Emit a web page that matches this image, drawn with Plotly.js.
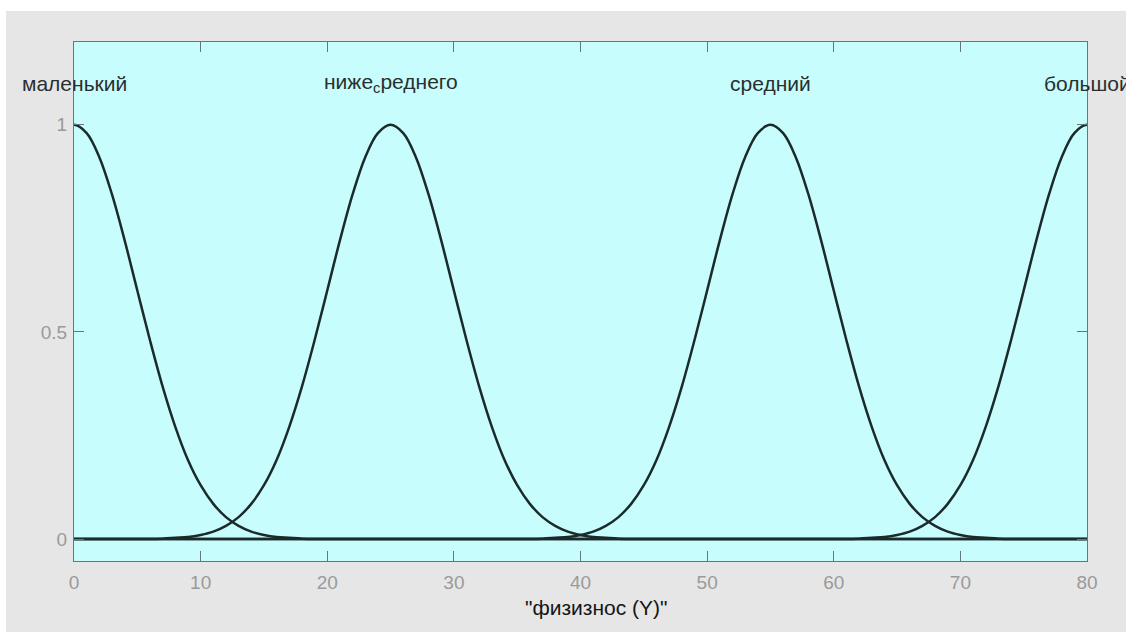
<!DOCTYPE html>
<html>
<head>
<meta charset="utf-8">
<script src="https://cdn.plot.ly/plotly-3.0.1.min.js"></script>
<style>
  html, body { margin: 0; padding: 0; background: #ffffff; overflow: hidden; }
  #chart { position: absolute; left: 6px; top: 11px; width: 1120px; height: 621px; }
</style>
</head>
<body>
<div id="chart"></div>
<script>
// x grid (sample points along "физизнос (Y)"), one step beyond each end so the curves stay smooth at the edges
const xGrid = [-1,0,1,2,3,4,5,6,7,8,9,10,11,12,13,14,15,16,17,18,19,20,
  21,22,23,24,25,26,27,28,29,30,31,32,33,34,35,36,37,38,39,40,
  41,42,43,44,45,46,47,48,49,50,51,52,53,54,55,56,57,58,59,60,
  61,62,63,64,65,66,67,68,69,70,71,72,73,74,75,76,77,78,79,80,81];

// membership values
const mfSmall = [0.98,
  1,0.98,0.922,0.832,0.721,0.6,0.48,0.368,0.271,0.191,
  0.13,0.085,0.053,0.032,0.018,0.01,0.005,0.003,0.001,0,
  0,0,0,0,0,0,0,0,0,0,
  0,0,0,0,0,0,0,0,0,0,
  0,0,0,0,0,0,0,0,0,0,
  0,0,0,0,0,0,0,0,0,0,
  0,0,0,0,0,0,0,0,0,0,
  0,0,0,0,0,0,0,0,0,0,
  0,
  0];

const mfBelowMid = [0,
  0,0,0,0,0,0,0,0.001,0.003,0.005,
  0.01,0.018,0.032,0.053,0.085,0.13,0.191,0.271,0.368,0.48,
  0.6,0.721,0.832,0.922,0.98,1,0.98,0.922,0.832,0.721,
  0.6,0.48,0.368,0.271,0.191,0.13,0.085,0.053,0.032,0.018,
  0.01,0.005,0.003,0.001,0,0,0,0,0,0,
  0,0,0,0,0,0,0,0,0,0,
  0,0,0,0,0,0,0,0,0,0,
  0,0,0,0,0,0,0,0,0,0,
  0,
  0];

const mfMid = [0,
  0,0,0,0,0,0,0,0,0,0,
  0,0,0,0,0,0,0,0,0,0,
  0,0,0,0,0,0,0,0,0,0,
  0,0,0,0,0,0,0,0.001,0.003,0.005,
  0.01,0.018,0.032,0.053,0.085,0.13,0.191,0.271,0.368,0.48,
  0.6,0.721,0.832,0.922,0.98,1,0.98,0.922,0.832,0.721,
  0.6,0.48,0.368,0.271,0.191,0.13,0.085,0.053,0.032,0.018,
  0.01,0.005,0.003,0.001,0,0,0,0,0,0,
  0,
  0];

const mfLarge = [0,
  0,0,0,0,0,0,0,0,0,0,
  0,0,0,0,0,0,0,0,0,0,
  0,0,0,0,0,0,0,0,0,0,
  0,0,0,0,0,0,0,0,0,0,
  0,0,0,0,0,0,0,0,0,0,
  0,0,0,0,0,0,0,0,0,0,
  0,0,0.001,0.003,0.005,0.01,0.018,0.032,0.053,0.085,
  0.13,0.191,0.271,0.368,0.48,0.6,0.721,0.832,0.922,0.98,
  1,
  0.98];

const mfNames = ['маленький', 'ниже<sub>с</sub>реднего', 'средний', 'большой'];
const mfCenters = [0, 25, 55, 80];
const mfLabelY = [1.1, 1.1, 1.1, 1.1];

const xTicks = [0,10,20,30,40,50,60,70,80];
const yTicks = [0, 0.5, 1];
const yTickText = ['0', '0.5', '1'];
const xTitle = '"физизнос (Y)"';

const series = [mfSmall, mfBelowMid, mfMid, mfLarge];
const lineColor = '#1b2b2b';
const traces = series.map(ys => ({
  x: xGrid, y: ys, type: 'scatter', mode: 'lines',
  line: {color: lineColor, width: 2.5, shape: 'spline', smoothing: 1},
  hoverinfo: 'skip', showlegend: false
}));

const annotations = mfNames.map((t, i) => ({
  x: mfCenters[i], y: mfLabelY[i], xref: 'x', yref: 'y', text: t,
  showarrow: false, xanchor: 'center', yanchor: 'middle',
  font: {family: 'Liberation Sans, Arial, sans-serif', size: 21, color: '#2a2f2f'}
}));
annotations.push({
  x: 0.516, y: -0.09, xref: 'paper', yref: 'paper', text: xTitle,
  showarrow: false, xanchor: 'center', yanchor: 'middle',
  font: {family: 'Liberation Sans, Arial, sans-serif', size: 21, color: '#151515'}
});

const axisCommon = {
  showgrid: false, zeroline: false, showline: true, linecolor: '#5f7a7a', linewidth: 1,
  mirror: 'ticks', ticks: 'inside', ticklen: 10, tickcolor: '#5f7a7a', tickwidth: 1,
  tickfont: {family: 'Liberation Sans, Arial, sans-serif', size: 19, color: '#9a9a9a'}
};

const layout = {
  width: 1120, height: 621,
  paper_bgcolor: '#e6e6e6', plot_bgcolor: '#c8fdfd',
  margin: {l: 68, r: 39, t: 31, b: 71},
  xaxis: Object.assign({}, axisCommon, {range: [0, 80], tickvals: xTicks, ticklabelstandoff: 4}),
  yaxis: Object.assign({}, axisCommon, {range: [-0.053, 1.2], tickvals: yTicks, ticktext: yTickText, ticklabelstandoff: 2}),
  annotations: annotations,
  showlegend: false
};

Plotly.newPlot('chart', traces, layout, {displayModeBar: false, staticPlot: true});
</script>
</body>
</html>
